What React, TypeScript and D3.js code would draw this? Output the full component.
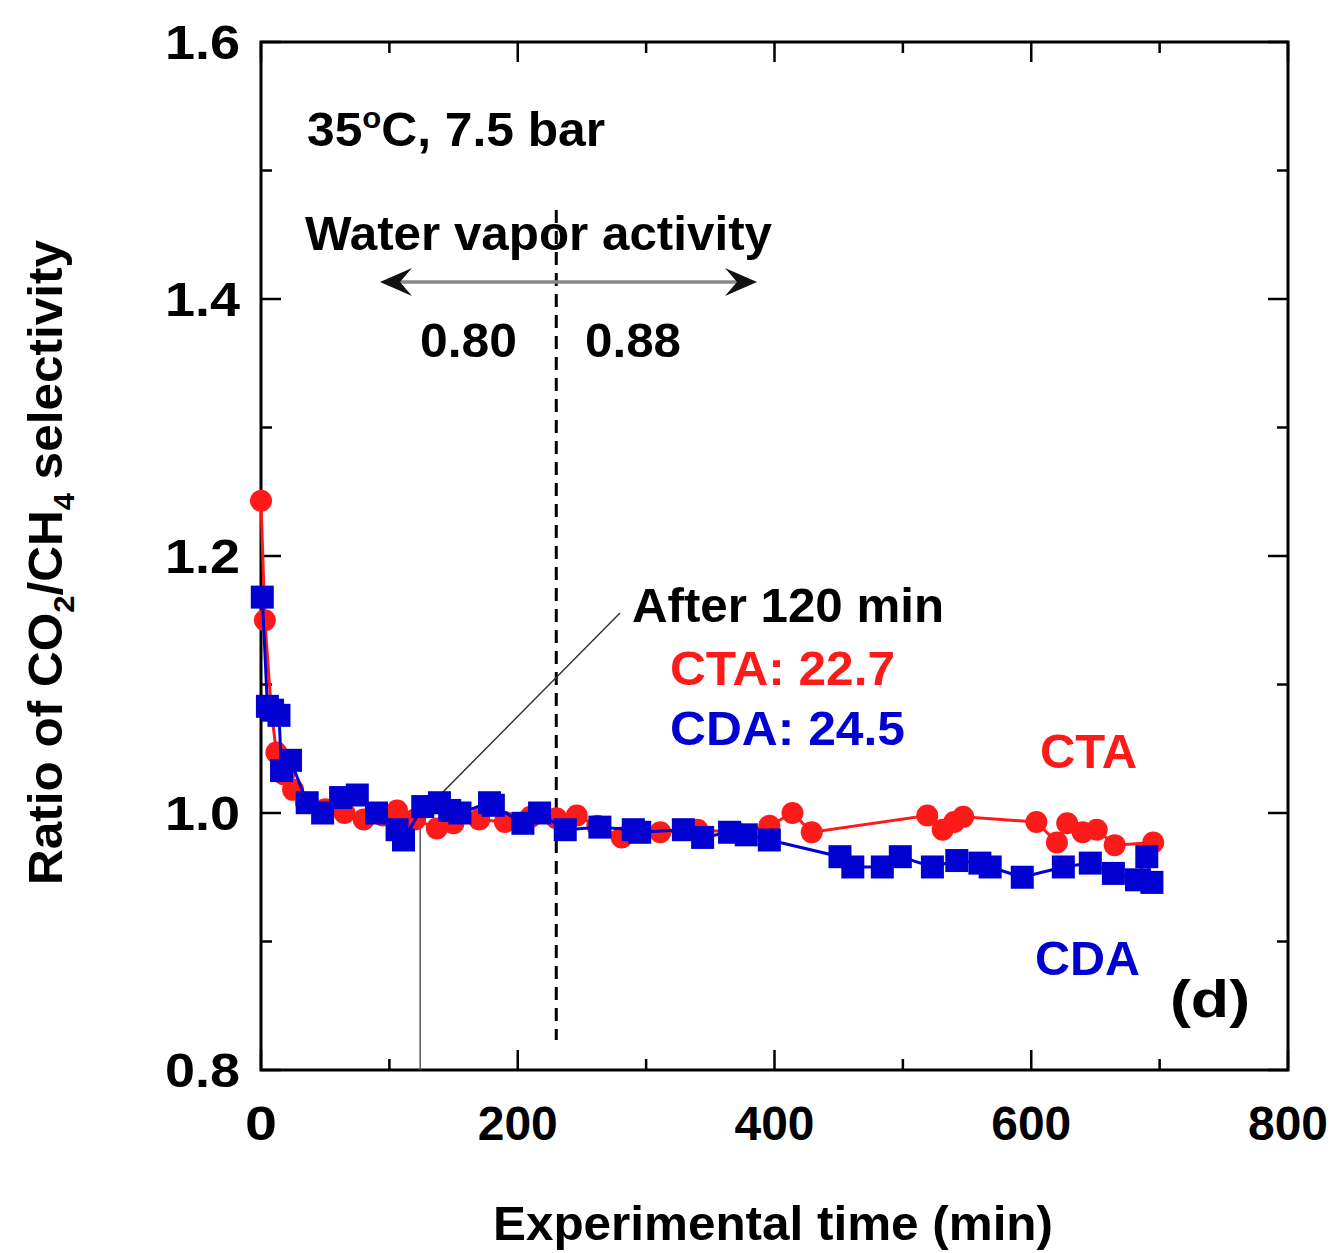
import React from "react";
import * as d3 from "d3";

const ctaTime = [0, 3, 8, 12, 18, 25, 35, 50, 65, 80, 95, 106, 120, 137, 150, 170, 190, 210, 230, 246, 262, 281, 311, 340, 370, 396, 414, 429, 519, 531, 540, 547, 604, 620, 628, 640, 651, 665, 695];
const ctaValue = [1.243, 1.15, 1.08, 1.047, 1.03, 1.018, 1.008, 1.003, 1.0, 0.995, 0.998, 1.002, 0.995, 0.988, 0.992, 0.995, 0.993, 0.997, 0.996, 0.998, 0.99, 0.981, 0.985, 0.987, 0.985, 0.99, 1.0, 0.985, 0.998, 0.987, 0.993, 0.997, 0.993, 0.977, 0.992, 0.985, 0.987, 0.975, 0.977];

const cdaTime = [1, 5, 9, 14, 16, 23, 36, 48, 62, 75, 90, 106, 111, 126, 139, 147, 155, 178, 181, 204, 217, 237, 264, 290, 295, 329, 344, 365, 378, 396, 451, 461, 484, 498, 523, 542, 560, 568, 593, 625, 646, 664, 682, 690, 694];
const cdaValue = [1.168, 1.083, 1.08, 1.076, 1.033, 1.041, 1.008, 1.0, 1.012, 1.014, 1.0, 0.987, 0.979, 1.005, 1.008, 1.002, 1.0, 1.008, 1.006, 0.992, 1.0, 0.987, 0.989, 0.987, 0.985, 0.987, 0.981, 0.985, 0.983, 0.979, 0.966, 0.958, 0.958, 0.966, 0.958, 0.963, 0.961, 0.958, 0.95, 0.958, 0.961, 0.953, 0.948, 0.966, 0.946];

const xMajorTicks = [0, 200, 400, 600, 800];
const xMinorTicks = [100, 300, 500, 700];
const yMajorTicks = [0.8, 1.0, 1.2, 1.4, 1.6];
const yMinorTicks = [0.9, 1.1, 1.3, 1.5];

const activityBoundary = 230;
const annotationTime = 124;

const RED = "#ff1a1a";
const BLUE = "#0000d0";
const FONT = "'Liberation Sans', Arial, sans-serif";

export default function App() {
  const left = 261, right = 1288, top = 42, bottom = 1070;
  const x = d3.scaleLinear().domain([0, 800]).range([left, right]);
  const y = d3.scaleLinear().domain([0.8, 1.6]).range([bottom, top]);

  const cta = ctaTime.map((t, i) => [t, ctaValue[i]] as [number, number]);
  const cda = cdaTime.map((t, i) => [t, cdaValue[i]] as [number, number]);
  const line = d3.line<[number, number]>().x(d => x(d[0])).y(d => y(d[1]));

  const majorLen = 20, minorLen = 11;
  const sq = 23;

  const arrowY = 282, arrowL = 380, arrowR = 757;
  const head = (tipX: number, dir: number) => {
    const L = 32, W = 14, notch = 20;
    return `M${tipX},${arrowY} L${tipX + dir * L},${arrowY - W} L${tipX + dir * notch},${arrowY} L${tipX + dir * L},${arrowY + W} Z`;
  };

  const annX = x(annotationTime);
  const annTopY = y(1.0);
  const FS = 48;
  const adj = "spacingAndGlyphs";

  return (
    <svg width={1336} height={1253} style={{ position: "absolute", left: 0, top: 0, background: "#fff" }} fontFamily={FONT} fontWeight="bold">
      <rect x={0} y={0} width={1336} height={1253} fill="#fff" />
      {/* ticks */}
      {xMajorTicks.map(t => {
        const w = String(t).length === 1 ? 32 : 80;
        return (
          <g key={"xM" + t}>
            <line x1={x(t)} x2={x(t)} y1={bottom} y2={bottom - majorLen} stroke="#000" strokeWidth={2.5} />
            <line x1={x(t)} x2={x(t)} y1={top} y2={top + majorLen} stroke="#000" strokeWidth={2.5} />
            <text x={x(t) - w / 2} y={1140} fontSize={FS} textLength={w} lengthAdjust={adj}>{t}</text>
          </g>
        );
      })}
      {xMinorTicks.map(t => (
        <g key={"xm" + t}>
          <line x1={x(t)} x2={x(t)} y1={bottom} y2={bottom - minorLen} stroke="#000" strokeWidth={2.5} />
          <line x1={x(t)} x2={x(t)} y1={top} y2={top + minorLen} stroke="#000" strokeWidth={2.5} />
        </g>
      ))}
      {yMajorTicks.map(v => (
        <g key={"yM" + v}>
          <line x1={left} x2={left + majorLen} y1={y(v)} y2={y(v)} stroke="#000" strokeWidth={2.5} />
          <line x1={right} x2={right - majorLen} y1={y(v)} y2={y(v)} stroke="#000" strokeWidth={2.5} />
          <text x={165} y={y(v) + 17} fontSize={FS} textLength={75} lengthAdjust={adj}>{v.toFixed(1)}</text>
        </g>
      ))}
      {yMinorTicks.map(v => (
        <g key={"ym" + v}>
          <line x1={left} x2={left + minorLen} y1={y(v)} y2={y(v)} stroke="#000" strokeWidth={2.5} />
          <line x1={right} x2={right - minorLen} y1={y(v)} y2={y(v)} stroke="#000" strokeWidth={2.5} />
        </g>
      ))}
      <rect x={left} y={top} width={right - left} height={bottom - top} fill="none" stroke="#000" strokeWidth={3} />

      {/* dashed activity boundary */}
      <line x1={x(activityBoundary)} x2={x(activityBoundary)} y1={210} y2={1040} stroke="#000" strokeWidth={3} strokeDasharray="13,8" />

      {/* annotation lines */}
      <line x1={annX} x2={annX} y1={bottom} y2={annTopY} stroke="#555" strokeWidth={1.5} />
      <line x1={annX + 2} x2={620} y1={annTopY} y2={613} stroke="#333" strokeWidth={1.5} />

      {/* data */}
      <path d={line(cta) || ""} fill="none" stroke={RED} strokeWidth={3} />
      {cta.map((d, i) => (
        <circle key={"c" + i} cx={x(d[0])} cy={y(d[1])} r={11} fill={RED} />
      ))}
      <path d={line(cda) || ""} fill="none" stroke={BLUE} strokeWidth={3} />
      {cda.map((d, i) => (
        <rect key={"s" + i} x={x(d[0]) - sq / 2} y={y(d[1]) - sq / 2} width={sq} height={sq} fill={BLUE} />
      ))}

      {/* arrow */}
      <line x1={arrowL + 20} x2={arrowR - 20} y1={arrowY} y2={arrowY} stroke="#888" strokeWidth={3.5} />
      <path d={head(arrowL, 1)} fill="#111" />
      <path d={head(arrowR, -1)} fill="#111" />

      {/* texts */}
      <text x={307} y={146} fontSize={FS} textLength={298} lengthAdjust={adj}>
        35<tspan dy={-18} fontSize={30}>o</tspan><tspan dy={18}>C, 7.5 bar</tspan>
      </text>
      <text x={305} y={250} fontSize={FS} textLength={467} lengthAdjust={adj}>Water vapor activity</text>
      <text x={420} y={357} fontSize={FS} textLength={97} lengthAdjust={adj}>0.80</text>
      <text x={585} y={357} fontSize={FS} textLength={96} lengthAdjust={adj}>0.88</text>
      <text x={632} y={622} fontSize={FS} textLength={312} lengthAdjust={adj}>After 120 min</text>
      <text x={670} y={685} fontSize={FS} fill={RED} textLength={225} lengthAdjust={adj}>CTA: 22.7</text>
      <text x={670} y={745} fontSize={FS} fill={BLUE} textLength={235} lengthAdjust={adj}>CDA: 24.5</text>
      <text x={1040} y={768} fontSize={FS} fill={RED} textLength={97} lengthAdjust={adj}>CTA</text>
      <text x={1035} y={975} fontSize={FS} fill={BLUE} textLength={105} lengthAdjust={adj}>CDA</text>
      <text x={1170} y={1017} fontSize={52} textLength={80} lengthAdjust={adj}>(d)</text>

      {/* axis titles */}
      <text x={493} y={1240} fontSize={FS} textLength={560} lengthAdjust={adj}>Experimental time (min)</text>
      <text transform="translate(62,885) rotate(-90)" fontSize={FS} textLength={645} lengthAdjust={adj}>
        Ratio of CO<tspan dy={12} fontSize={30}>2</tspan><tspan dy={-12}>/CH</tspan><tspan dy={12} fontSize={30}>4</tspan><tspan dy={-12}> selectivity</tspan>
      </text>
    </svg>
  );
}
